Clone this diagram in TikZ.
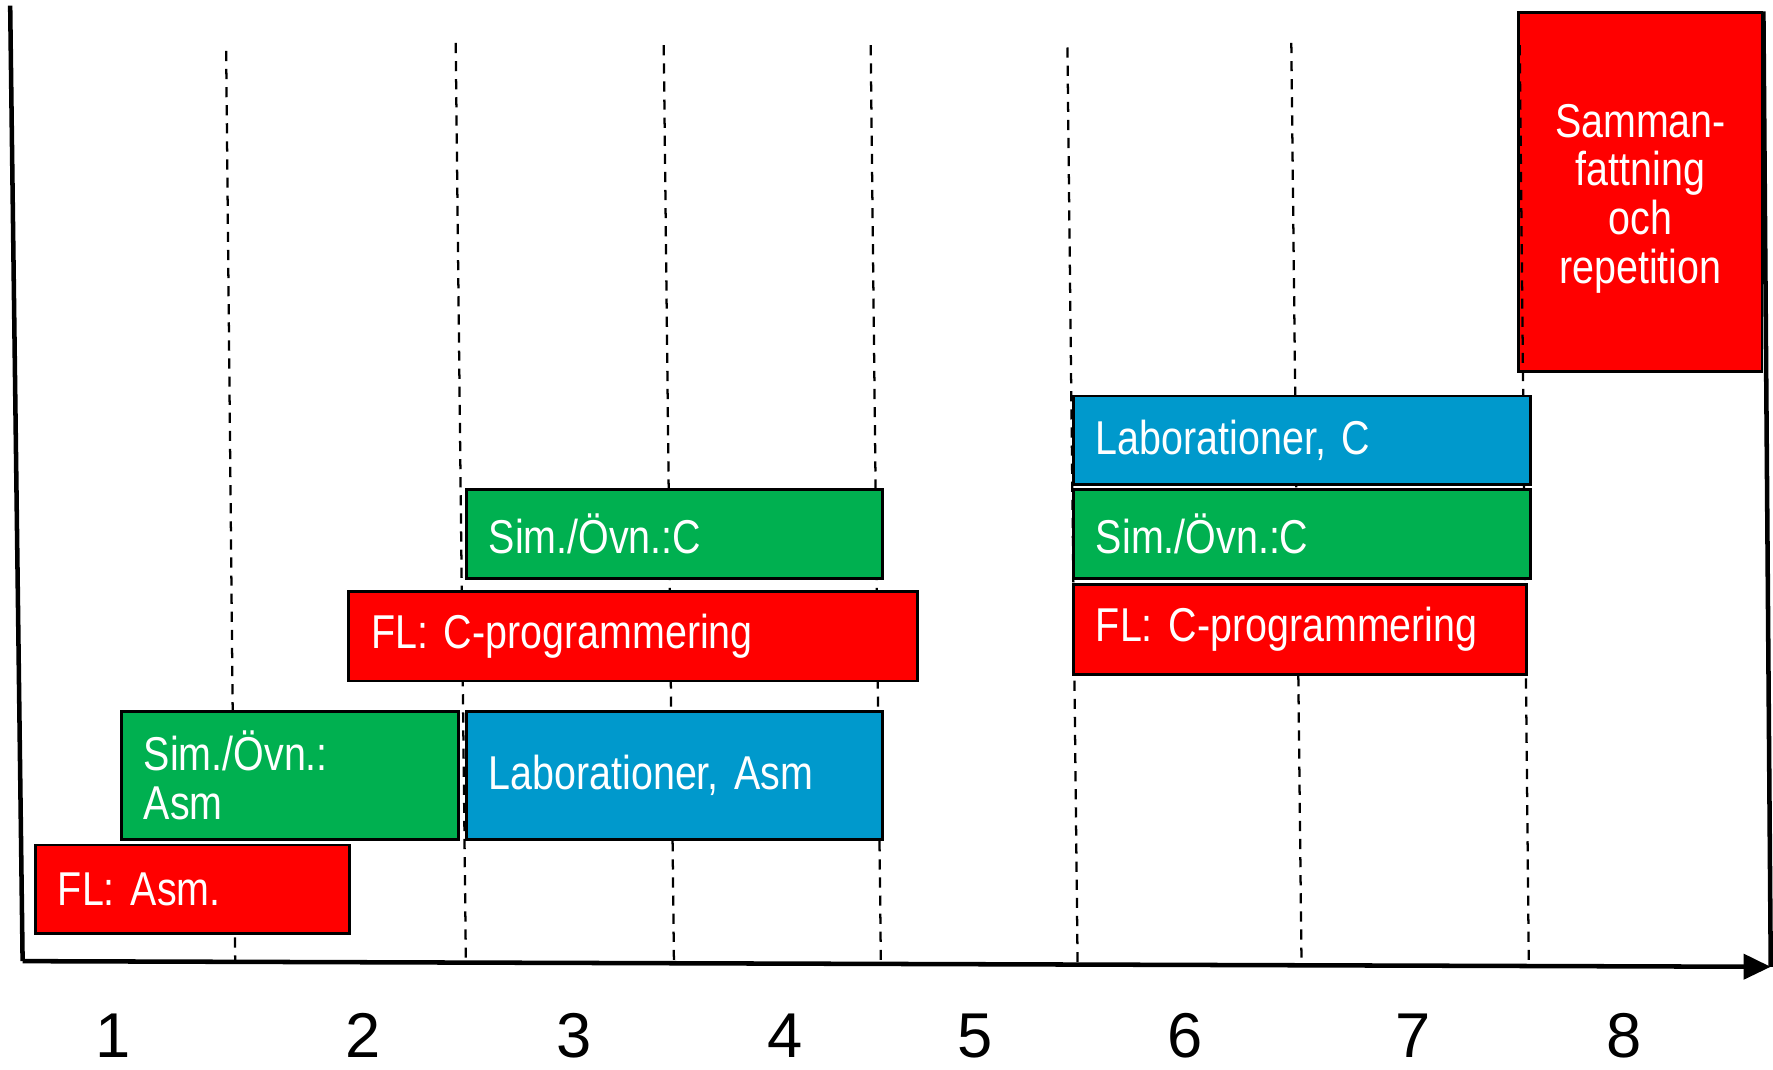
\documentclass[tikz,border=0pt]{standalone}
\usepackage{fontspec}
\setmainfont{Liberation Sans}[FakeStretch=0.83]
\newfontfamily\numfam{Liberation Sans}
\usetikzlibrary{arrows.meta}
\frenchspacing
\definecolor{boxred}{HTML}{FF0000}
\definecolor{boxgreen}{HTML}{00B050}
\definecolor{boxblue}{HTML}{0099CC}
\newcommand{\boxfont}{\fontsize{42}{43}\selectfont\frenchspacing\spaceskip=7pt\relax}
\newcommand{\numfont}{\numfam\fontsize{56}{58}\selectfont}
\tikzset{
  box/.style={draw=black, line width=2.5pt, anchor=north west, inner xsep=20pt, inner ysep=0pt,
    align=left, font=\boxfont, text=white},
  redbox/.style={box, fill=boxred},
  greenbox/.style={box, fill=boxgreen},
  bluebox/.style={box, fill=boxblue},
  guide/.style={line width=2pt, dash pattern=on 9pt off 7pt},
  axisline/.style={line width=4pt},
  weeknum/.style={font=\numfont, inner sep=0pt}
}
\begin{document}
\begin{tikzpicture}[x=1pt,y=-1pt]
\useasboundingbox (0,0) rectangle (1568,946);
% summary box (behind the guide lines)
\node[redbox, align=center, inner xsep=10pt, text width=195pt, minimum height=317pt] (summ) at (1342,10)
  {\rule{0pt}{41pt}Samman-\\fattning\\och\\repetition};
% guide lines
\coordinate (d1t) at (200,45);  \coordinate (d1b) at (208,852);
\coordinate (d2t) at (403,38);  \coordinate (d2b) at (412,850);
\coordinate (d3t) at (587,40);  \coordinate (d3b) at (596,850);
\coordinate (d4t) at (770,40);  \coordinate (d4b) at (779,850);
\coordinate (d5t) at (944,42);  \coordinate (d5b) at (953,852);
\coordinate (d6t) at (1142,38); \coordinate (d6b) at (1151,850);
\coordinate (d7t) at (1344,40); \coordinate (d7b) at (1352,850);
\foreach \i in {1,...,7} \draw[guide] (d\i t) -- (d\i b);
% boxes
\node[redbox, text width=238pt, minimum height=78pt] (flasm) at (30,746) {FL: Asm.};
\node[greenbox, text width=258pt, minimum height=113pt] (simasm) at (106,628) {Sim./Övn.:\\Asm};
\node[bluebox, text width=328pt, minimum height=113pt] (labasm) at (411,628) {Laborationer, Asm};
\node[redbox, text width=463pt, minimum height=79pt] (flc1) at (307,522) {FL: C-programmering};
\node[greenbox, text width=328pt, minimum height=78pt] (simc1) at (411,432) {Sim./Övn.:C};
\node[bluebox, text width=364pt, minimum height=78pt] (labc) at (948,349) {Laborationer, C};
\node[greenbox, text width=364pt, minimum height=78pt] (simc2) at (948,432) {Sim./Övn.:C};
\node[redbox, text width=361pt, minimum height=79pt] (flc2) at (948,516) {FL: C-programmering};
% axes
\coordinate (ytop) at (9,5);
\coordinate (orig) at (20,850);
\coordinate (xend) at (1566,855);
\draw[axisline] (ytop) -- (orig);
\draw[axisline, -{Triangle[length=24pt,width=22pt]}] (orig) -- (xend);
\draw[axisline] (summ.north east) -- (xend);
% week numbers
\node[weeknum] (w1) at (100,916) {1};
\node[weeknum] (w2) at (321,916) {2};
\node[weeknum] (w3) at (508,916) {3};
\node[weeknum] (w4) at (694,916) {4};
\node[weeknum] (w5) at (862,916) {5};
\node[weeknum] (w6) at (1048,916) {6};
\node[weeknum] (w7) at (1250,916) {7};
\node[weeknum] (w8) at (1436,916) {8};
\end{tikzpicture}
\end{document}
